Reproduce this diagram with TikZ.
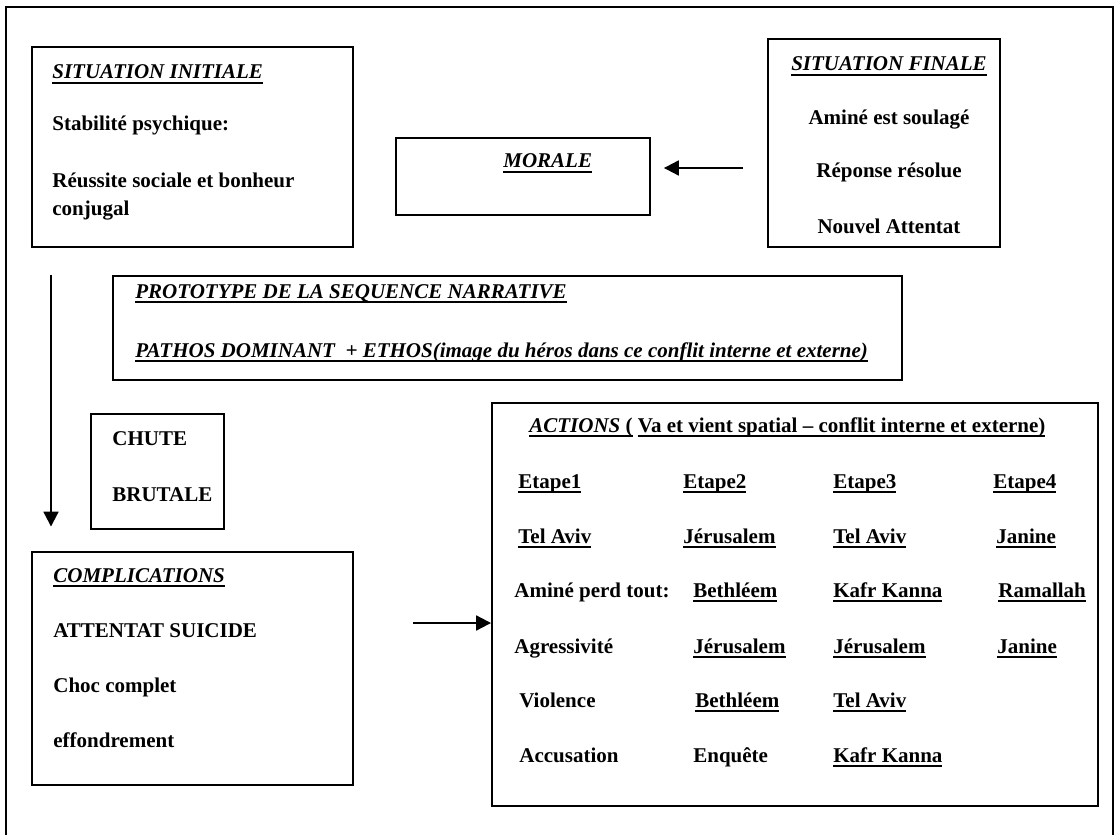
\documentclass[tikz,border=0pt]{standalone}
\usepackage{fontspec}
\setmainfont{Liberation Serif}
\usetikzlibrary{fit,arrows.meta}
\newsavebox{\ulbox}
\newcommand{\ul}[1]{\sbox{\ulbox}{#1}\rlap{\rule[-2.6pt]{\wd\ulbox}{0.85pt}}\usebox{\ulbox}}
\begin{document}
\begin{tikzpicture}[x=0.5714pt, y=-0.5714pt,
  box/.style={draw, line width=1.1pt, inner sep=0pt},
  txt/.style={inner sep=0pt, anchor=base west, font=\fontsize{12}{14}\selectfont\bfseries},
  ctxt/.style={txt, anchor=base},
  arr/.style={line width=1.2pt, -{Triangle[length=8.5pt,width=8.5pt]}}]
  \useasboundingbox (0,0) rectangle (1118,835);
  \draw[line width=1.2pt] (6,835) -- (6,7) -- (1113,7) -- (1113,835);
  % boxes
  \node[box, fit={(32,47) (353,247)}] (sitinit) {};
  \node[box, fit={(396,138) (650,215)}] (morale) {};
  \node[box, fit={(768,39) (1000,247)}] (sitfin) {};
  \node[box, fit={(113,276) (902,380)}] (proto) {};
  \node[box, fit={(91,414) (224,529)}] (chute) {};
  \node[box, fit={(32,552) (353,785)}] (compl) {};
  \node[box, fit={(492,403) (1098,806)}] (actions) {};
  % texts
  \node[txt] (si0) at (52,79) {\ul{\textit{SITUATION INITIALE}}};
  \node[txt] (si1) at (52,131) {Stabilité psychique:};
  \node[txt] (si2) at (52,188) {Réussite sociale et bonheur};
  \node[txt] (si3) at (52,216) {conjugal};
  \node[txt] (mo0) at (503,168) {\ul{\textit{MORALE}}};
  \node[ctxt] (sf0) at (889,71) {\ul{\textit{SITUATION FINALE}}};
  \node[ctxt] (sf1) at (889,125) {Aminé est soulagé};
  \node[ctxt] (sf2) at (889,178) {Réponse résolue};
  \node[ctxt] (sf3) at (889,234) {Nouvel Attentat};
  \node[txt] (pr0) at (135,298) {\ul{\textit{PROTOTYPE DE LA SEQUENCE NARRATIVE}}};
  \node[txt] (pr1) at (135,357) {\ul{\textit{PATHOS DOMINANT\ \ + ETHOS(image du héros dans ce conflit interne et externe)}}};
  \node[txt] (ch1) at (112,445) {CHUTE};
  \node[txt] (ch2) at (112,501) {BRUTALE};
  \node[txt] (co0) at (53,582) {\ul{\textit{COMPLICATIONS}}};
  \node[txt] (co1) at (53,637) {ATTENTAT SUICIDE};
  \node[txt] (co2) at (53,692) {Choc complet};
  \node[txt] (co3) at (53,747) {effondrement};
  \node[txt] (ac0) at (529,432) {\ul{\textit{ACTIONS} (} \ul{Va et vient spatial – conflit interne et externe)}};
  \foreach \i/\x in {1/518, 2/683, 3/833, 4/993}
    \node[txt] (etape\i) at (\x,488) {\ul{Etape\i}};
  \foreach \t/\x [count=\k] in {Tel Aviv/518, Jérusalem/683, Tel Aviv/833, Janine/996}
    \node[txt] (la\k) at (\x,543) {\ul{\t}};
  \node[txt] (perd) at (514,597) {Aminé perd tout:};
  \foreach \t/\x [count=\k] in {Bethléem/693, Kafr Kanna/833, Ramallah/998}
    \node[txt] (lb\k) at (\x,597) {\ul{\t}};
  \node[txt] (agr) at (514,653) {Agressivité};
  \foreach \t/\x [count=\k] in {Jérusalem/693, Jérusalem/833, Janine/997}
    \node[txt] (lc\k) at (\x,653) {\ul{\t}};
  \node[txt] (vio) at (519,707) {Violence};
  \foreach \t/\x [count=\k] in {Bethléem/695, Tel Aviv/833}
    \node[txt] (ld\k) at (\x,707) {\ul{\t}};
  \node[txt] (acc) at (519,762) {Accusation};
  \node[txt] (enq) at (693,762) {Enquête};
  \node[txt] (le1) at (833,762) {\ul{Kafr Kanna}};
  % arrows
  \coordinate (mtail) at (743,168);
  \coordinate (vtop) at (51,275);
  \coordinate (htail) at (413,623);
  \draw[arr, shorten >=7.4pt] (mtail) -- (mtail -| morale.east);
  \draw[arr, shorten >=14pt] (vtop) -- (vtop |- compl.north);
  \draw[arr] (htail) -- (htail -| actions.west);
\end{tikzpicture}
\end{document}
